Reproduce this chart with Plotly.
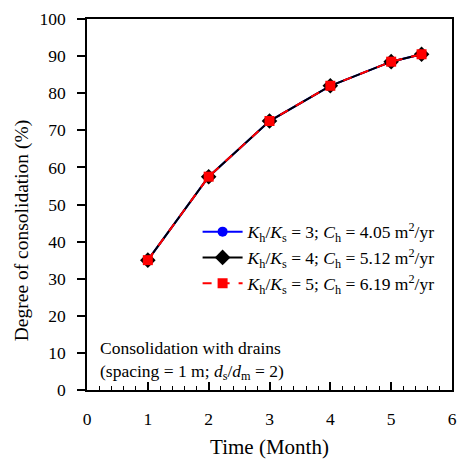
import plotly.graph_objects as go

time_month = [1, 2, 3, 4, 5, 5.5]
u_k3 = [35.0, 57.5, 72.5, 82.0, 88.5, 90.5]
u_k4 = [35.0, 57.5, 72.5, 82.0, 88.5, 90.5]
u_k5 = [35.0, 57.5, 72.5, 82.0, 88.5, 90.5]

names = [
    "<i>K</i><sub>h</sub>/<i>K</i><sub>s</sub> = 3; <i>C</i><sub>h</sub> = 4.05 m<sup>2</sup>/yr",
    "<i>K</i><sub>h</sub>/<i>K</i><sub>s</sub> = 4; <i>C</i><sub>h</sub> = 5.12 m<sup>2</sup>/yr",
    "<i>K</i><sub>h</sub>/<i>K</i><sub>s</sub> = 5; <i>C</i><sub>h</sub> = 6.19 m<sup>2</sup>/yr",
]

FONT = "Liberation Serif, Times New Roman, serif"

fig = go.Figure()
fig.add_trace(go.Scatter(x=time_month, y=u_k3, name=names[0], mode="lines+markers",
                         line=dict(color="#0000ff", width=2),
                         marker=dict(symbol="circle", size=10, color="#0000ff")))
fig.add_trace(go.Scatter(x=time_month, y=u_k4, name=names[1], mode="lines+markers",
                         line=dict(color="#000000", width=2),
                         marker=dict(symbol="diamond", size=12, color="#000000")))
fig.add_trace(go.Scatter(x=time_month, y=u_k5, name=names[2], mode="lines+markers",
                         line=dict(color="#ff0000", width=2, dash="dash"),
                         marker=dict(symbol="square", size=10, color="#ff0000")))

fig.update_layout(
    width=462, height=462,
    margin=dict(l=87, r=5, t=19, b=72),
    paper_bgcolor="white", plot_bgcolor="white",
    font=dict(family=FONT, size=16, color="black"),
    legend=dict(x=0.303, y=0.475, xanchor="left", yanchor="top",
                bgcolor="rgba(0,0,0,0)", font=dict(family=FONT, size=17.5),
                tracegroupgap=0, itemwidth=40),
    showlegend=True,
    annotations=[
        dict(
            x=0.03, y=0.145, xref="paper", yref="paper", xanchor="left", yanchor="top",
            align="left", showarrow=False,
            text="Consolidation with drains<br>(spacing = 1 m; <i>d</i><sub>s</sub>/<i>d</i><sub>m</sub> = 2)",
            font=dict(family=FONT, size=17.5, color="black")),
        dict(
            x=-0.176, y=0.43, xref="paper", yref="paper", xanchor="center", yanchor="middle",
            textangle=-90, showarrow=False,
            text="Degree of consolidation (%)",
            font=dict(family=FONT, size=19.5, color="black")),
    ],
)

fig.update_xaxes(
    range=[0, 6], dtick=1, tick0=0,
    showline=True, linecolor="black", linewidth=1.5, mirror=True,
    ticks="inside", ticklen=8, tickwidth=1.5, tickcolor="black",
    minor=dict(dtick=0.2, ticks="inside", ticklen=4, tickwidth=1, tickcolor="black"),
    showgrid=False, zeroline=False,
    ticklabelstandoff=12,
    title=dict(text="Time (Month)", font=dict(family=FONT, size=21), standoff=12),
    tickfont=dict(family=FONT, size=17.5),
)
fig.update_yaxes(
    range=[0, 100], dtick=10, tick0=0,
    showline=True, linecolor="black", linewidth=1.5, mirror=True,
    ticks="outside", ticklen=8, tickwidth=1.5, tickcolor="black",
    showgrid=False, zeroline=False,
    ticklabelstandoff=8,
    tickfont=dict(family=FONT, size=17.5),
)

fig.write_html("out.html")
